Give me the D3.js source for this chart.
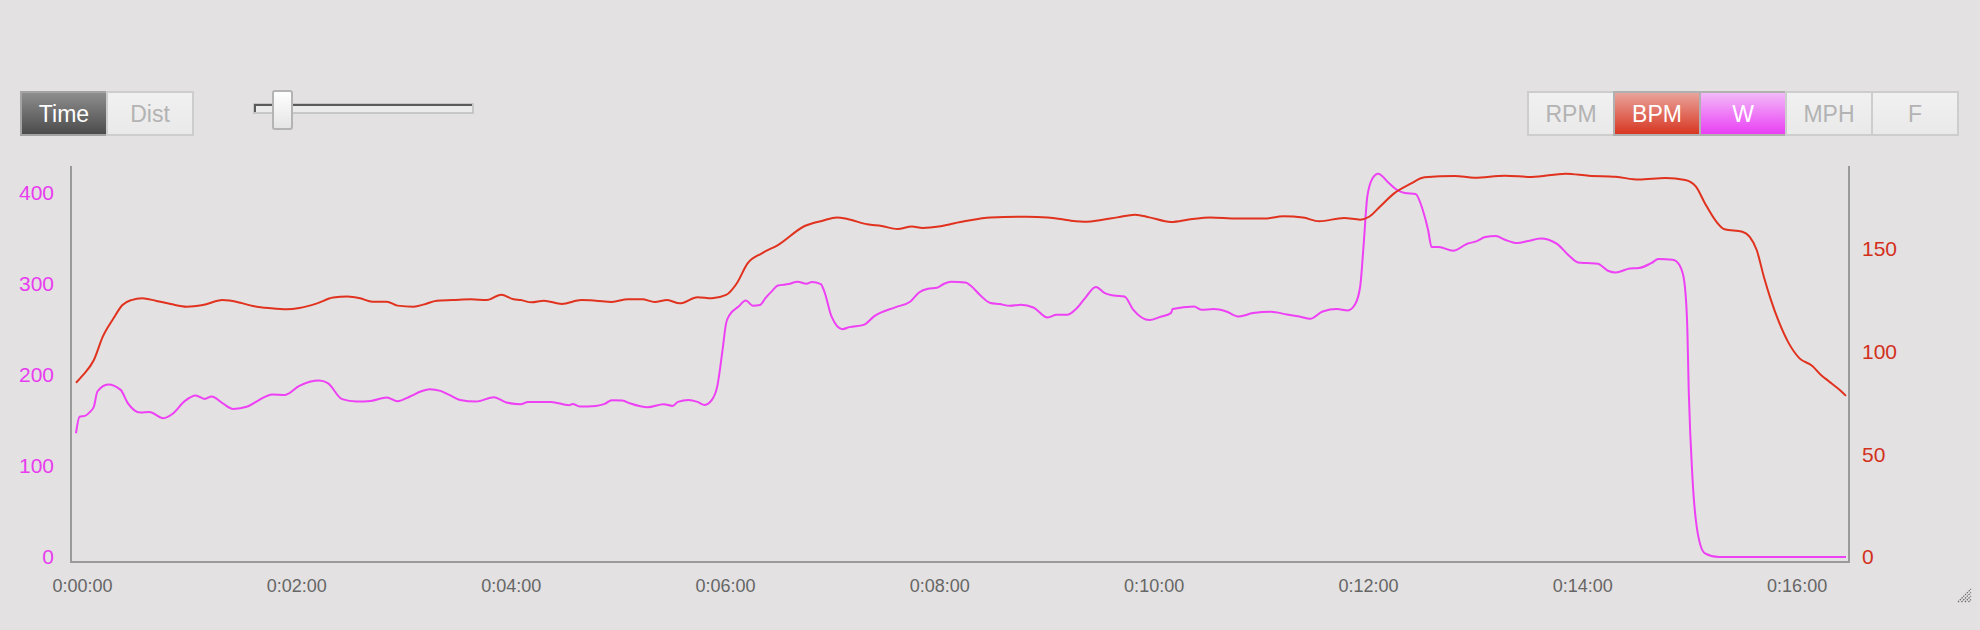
<!DOCTYPE html>
<html>
<head>
<meta charset="utf-8">
<script src="https://cdn.jsdelivr.net/npm/d3@7"></script>
<style>
  body { margin: 0; background: #e3e1e1; }
  svg { display: block; font-family: "Liberation Sans", Arial, Helvetica, sans-serif; }
</style>
</head>
<body>
<svg id="chart" width="1980" height="630"></svg>
<script>
// heart rate (BPM), seconds from start
var bpmTime = [0,4,10,15,21,26,31,37,45,53,62,71,82,92,99,109,118,125,135,144,152,159,166,174,180,189,195,202,211,221,230,238,245,249,255,262,272,283,291,300,309,317,324,331,338,348,356,364,370,376,384,393,408,418,426,432,443,451,460,468,474,483,490,498,512,532,544,557,566,573,583,593,601,613,624,635,650,665,676,687,696,710,719,724,730,738,747,755,772,783,800,815,834,847,862,875,890,901,907,912,918,923,933,937,941,945,949,953,959,965,972,977,981,988,991]
var bpmValue = [84.9,88.7,96,107.4,116.3,122.8,125.2,126.1,124.8,123.3,122,122.8,125.2,123.9,122.3,121.2,120.7,121.3,123.6,126.4,126.9,126.1,124.4,124.4,122.5,122,123.1,124.9,125.2,125.6,125.2,127.8,125.6,125.2,124.1,124.9,123.3,125.2,124.9,124.3,125.6,125.6,124.3,125.2,123.6,126.6,126.1,127.7,133.4,143.1,148,152,161.3,163.9,165.5,164.7,162.1,161.3,159.8,161,160.3,161,162.3,163.7,165.5,165.8,165.5,163.9,163.4,164.1,165.5,166.8,165.5,163.3,164.6,165.5,164.9,164.9,166,165.4,163.6,165.2,164.4,165.8,170.7,177.2,181.8,185,185.7,184.8,185.8,185.2,186.8,185.8,185.3,183.9,184.7,183.7,180.5,172.4,163.9,159.7,158.5,156.1,149.6,136.6,125.2,115.5,104.1,96.8,93.2,88.7,85.9,81,78.5]

// power (W), seconds from start
var wTime = [0,2,5,8,10,12,18,25,29,36,41,49,54,61,67,72,76,82,88,96,101,110,117,125,136,141,149,157,165,174,180,187,193,198,204,209,215,224,234,241,249,253,266,276,278,282,291,296,300,306,310,320,329,334,337,343,348,352,356,359,362,364,366,371,375,379,383,386,390,393,399,404,409,412,417,419,423,429,433,441,447,459,467,472,477,482,486,490,498,501,506,512,517,523,529,536,544,549,555,560,565,571,576,581,587,592,601,607,613,614,626,630,637,644,651,659,669,678,685,691,698,706,712,716,719,721,723,726,729,735,740,744,750,754,757,759,763,771,779,784,789,795,800,807,813,820,829,836,841,846,852,858,862,870,875,882,886,894,897,900,902,903,905,908,912,920,991]
var wValue = [135.9,154,155,159.7,165,181.7,189.4,183.5,168.9,158.6,159.3,152.4,157.1,171.4,177.3,173.6,176.2,168.9,162.6,165.2,170.7,178.4,178,187.9,193.7,190.9,173.3,170.7,171.4,175.1,171.1,176.2,181.7,184.3,182.4,178,172.5,170.7,175.5,169.6,167.8,170.3,170.3,166.7,168.1,165.2,165.9,168.1,172.2,171.8,168.9,164.5,167.8,165.9,170.3,172.5,170.3,167,172.5,187.1,227.5,256.8,265.9,275,281.6,275.8,276.6,284.3,292.6,298.1,299.7,302.2,300,301.9,299.7,291.5,264.1,250.2,252.4,254.9,264.5,274.4,280.2,290.4,294.5,295.6,300,302.2,301.4,297.8,287.9,278.8,277.7,275.8,276.9,274,263,265.9,265.9,272.5,284.3,296.4,289.8,287.1,286,271.4,260.1,263.7,267.8,272.2,275,271.4,272.2,269.6,264.1,267.8,269.2,266.3,264.1,261.5,269.6,272.2,270.7,276.9,297,344.7,395.9,416.1,420.9,410.7,402.5,399.7,398.6,381.3,359.3,340.3,340.3,336.3,344,346.5,351.3,352.4,348.4,344.7,346.9,349.8,344,330.8,323.4,322.7,322,314,312.4,316.8,317.3,322.7,327.1,326.4,322.7,308,260.4,179.9,88.2,26,4.1,0,0]

var endTime = 991
var xTicks = [0,120,240,360,480,600,720,840,960]
var xTickLabels = ["0:00:00","0:02:00","0:04:00","0:06:00","0:08:00","0:10:00","0:12:00","0:14:00","0:16:00"]
var wTicks = [0,100,200,300,400]
var bpmTicks = [0,50,100,150]
var leftButtons = ["Time","Dist"]
var rightButtons = ["RPM","BPM","W","MPH","F"]

var bpmColor = "#e0321f", bpmText = "#d3301c"
var wColor = "#ee40f5", wText = "#e83cf0"

var svg = d3.select("#chart")
var defs = svg.append("defs")
function grad(id, c1, c2){
    var g = defs.append("linearGradient").attr("id", id)
        .attr("x1", 0).attr("y1", 0).attr("x2", 0).attr("y2", 1)
    g.append("stop").attr("offset", "0%").attr("stop-color", c1)
    g.append("stop").attr("offset", "100%").attr("stop-color", c2)
}
grad("gDark", "#8f8f8f", "#4a4a4a")
grad("gLight", "#f1f1f1", "#e9e9e9")
grad("gRed", "#eaa69e", "#d7341f")
grad("gPink", "#f3bdf8", "#e93cf4")
grad("gThumb", "#ffffff", "#e4e4e4")

var plotL = 71, plotR = 1849, plotT = 166, plotB = 562

var x = d3.scaleLinear().domain([0, endTime]).range([76, 1846])
var yW = d3.scaleLinear().domain([0, d3.max(wValue) * 1.02]).range([557, plotT])
var yB = d3.scaleLinear().domain([0, d3.max(bpmValue) * 1.02]).range([557, plotT])

// frame
svg.append("path")
    .attr("d", `M${plotL},${plotT}V${plotB}H${plotR}V${plotT}`)
    .attr("fill", "none").attr("stroke", "#9a9a9a").attr("stroke-width", 2)

// axes (labels only)
var gx = svg.append("g").attr("transform", `translate(0,${plotB})`)
    .call(d3.axisBottom(x).tickValues(xTicks).tickSize(0).tickPadding(17)
        .tickFormat((d, i) => xTickLabels[i]))
gx.select(".domain").remove()
gx.selectAll("text").attr("dx", 6).attr("fill", "#666").style("font-size", "18px")
    .style("font-family", "inherit")

var gl = svg.append("g").attr("transform", `translate(${plotL},0)`)
    .call(d3.axisLeft(yW).tickValues(wTicks).tickSize(0).tickPadding(17))
gl.select(".domain").remove()
gl.selectAll("text").attr("fill", wText).style("font-size", "21px").style("font-family", "inherit")

var gr = svg.append("g").attr("transform", `translate(${plotR},0)`)
    .call(d3.axisRight(yB).tickValues(bpmTicks).tickSize(0).tickPadding(13))
gr.select(".domain").remove()
gr.selectAll("text").attr("fill", bpmText).style("font-size", "21px").style("font-family", "inherit")

// lines
var bpmData = bpmTime.map((t, i) => ({t: t, v: bpmValue[i]}))
var wData = wTime.map((t, i) => ({t: t, v: wValue[i]}))

svg.append("path").datum(wData)
    .attr("fill", "none").attr("stroke", wColor).attr("stroke-width", 2)
    .attr("d", d3.line().x(d => x(d.t)).y(d => yW(d.v)).curve(d3.curveMonotoneX))

svg.append("path").datum(bpmData)
    .attr("fill", "none").attr("stroke", bpmColor).attr("stroke-width", 2)
    .attr("d", d3.line().x(d => x(d.t)).y(d => yB(d.v)).curve(d3.curveMonotoneX))

// Time / Dist toggle
var bw = 86, bh = 43, by = 92
var lb = svg.append("g").selectAll("g").data(leftButtons).join("g")
    .attr("transform", (d, i) => `translate(${21 + i * bw},${by})`)
lb.append("rect").attr("width", bw).attr("height", bh)
    .attr("fill", (d, i) => i === 0 ? "url(#gDark)" : "url(#gLight)")
    .attr("stroke", (d, i) => i === 0 ? "#a3a3a3" : "#cdcdcd").attr("stroke-width", 2)
lb.append("text").attr("x", bw / 2).attr("y", bh / 2 + 8)
    .attr("text-anchor", "middle").style("font-size", "23px")
    .attr("fill", (d, i) => i === 0 ? "#fff" : "#b3b3b3")
    .text(d => d)

// slider
svg.append("rect").attr("x", 254).attr("y", 104).attr("width", 219).attr("height", 9)
    .attr("fill", "#ebebeb").attr("stroke", "#bdbdbd").attr("stroke-width", 1.5)
svg.append("path").attr("d", "M255,112V105H472")
    .attr("fill", "none").attr("stroke", "#5a5a5a").attr("stroke-width", 2)
svg.append("rect").attr("x", 273).attr("y", 91).attr("width", 19).attr("height", 38)
    .attr("rx", 2).attr("fill", "url(#gThumb)").attr("stroke", "#b4b4b4").attr("stroke-width", 2)

// series toggles
var rb = svg.append("g").selectAll("g").data(rightButtons).join("g")
    .attr("transform", (d, i) => `translate(${1528 + i * bw},${by})`)
rb.append("rect").attr("width", bw).attr("height", bh)
    .attr("fill", d => d === "BPM" ? "url(#gRed)" : d === "W" ? "url(#gPink)" : "url(#gLight)")
    .attr("stroke", d => (d === "BPM" || d === "W") ? "#b0b0b0" : "#cdcdcd").attr("stroke-width", 2)
rb.append("text").attr("x", bw / 2).attr("y", bh / 2 + 8)
    .attr("text-anchor", "middle").style("font-size", "23px")
    .attr("fill", d => (d === "BPM" || d === "W") ? "#fff" : "#b3b3b3")
    .text(d => d)

// resize grip
var grip = svg.append("g").attr("stroke", "#6a6a6a").attr("stroke-width", 1.2)
    .attr("stroke-dasharray", "1.5,1")
for (var k = 0; k < 4; k++) {
    grip.append("line").attr("x1", 1958 + k * 3.5).attr("y1", 602)
        .attr("x2", 1971).attr("y2", 589 + k * 3.5)
}
</script>
</body>
</html>
